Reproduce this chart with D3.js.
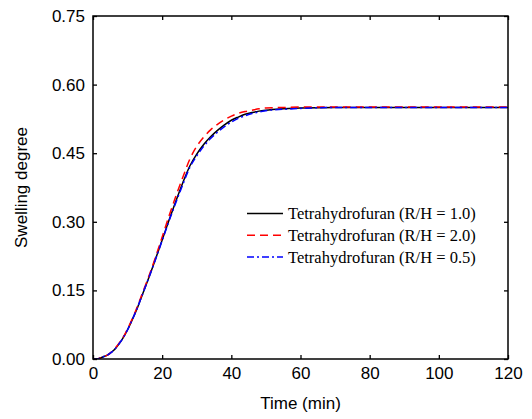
<!DOCTYPE html>
<html><head><meta charset="utf-8">
<script src="https://cdn.jsdelivr.net/npm/d3@7"></script>
<style>body{margin:0;background:#fff}svg{display:block}</style>
</head><body>
<svg id="c" width="532" height="419"></svg>
<script>
const times = [0,1,2,3,4,5,6,7,8,9,10,11,12,13,14,15,16,18,20,22,24,26,28,30,32,34,36,38,40,42,44,46,48,50,55,60,70,80,90,100,110,120];
const rh10 = [0,0.000,0.002,0.005,0.008,0.013,0.019,0.028,0.038,0.050,0.064,0.080,0.097,0.115,0.135,0.155,0.175,0.217,0.260,0.304,0.346,0.386,0.422,0.448,0.469,0.486,0.500,0.512,0.522,0.529,0.535,0.539,0.542,0.544,0.547,0.549,0.550,0.550,0.550,0.550,0.550,0.550];
const rh20 = [0,0.000,0.002,0.005,0.008,0.013,0.020,0.029,0.039,0.051,0.066,0.082,0.099,0.118,0.138,0.158,0.178,0.221,0.267,0.313,0.357,0.398,0.437,0.465,0.485,0.501,0.513,0.523,0.531,0.537,0.541,0.544,0.547,0.549,0.550,0.551,0.551,0.551,0.551,0.551,0.551,0.551];
const rh05 = [0,0.000,0.002,0.005,0.008,0.013,0.019,0.028,0.038,0.050,0.064,0.080,0.097,0.115,0.135,0.155,0.175,0.216,0.259,0.302,0.343,0.382,0.419,0.444,0.465,0.482,0.496,0.508,0.518,0.526,0.532,0.537,0.540,0.543,0.546,0.548,0.550,0.550,0.550,0.550,0.550,0.550];
const seriesNames = ["Tetrahydrofuran (R/H = 1.0)","Tetrahydrofuran (R/H = 2.0)","Tetrahydrofuran (R/H = 0.5)"];
const xTicks = [0,20,40,60,80,100,120];
const yTicks = [0,0.15,0.30,0.45,0.60,0.75];

const svg = d3.select("#c");
const L=93, R=508, T=16, B=359;
const x = d3.scaleLinear().domain([0,120]).range([L,R]);
const y = d3.scaleLinear().domain([0,0.75]).range([B,T]);

const series = [
  {name:seriesNames[0], vals:rh10, color:"#000", dash:null},
  {name:seriesNames[1], vals:rh20, color:"#ff0000", dash:"8,5"},
  {name:seriesNames[2], vals:rh05, color:"#0000ff", dash:"7,3,2,3"}
];

const clip = svg.append("clipPath").attr("id","cp").append("rect")
  .attr("x",L).attr("y",T).attr("width",R-L).attr("height",B-T);

const line = d3.line().x(d=>x(d[0])).y(d=>y(d[1])).curve(d3.curveMonotoneX);
const g = svg.append("g").attr("clip-path","url(#cp)");
series.forEach(s=>{
  g.append("path").datum(times.map((t,i)=>[t,s.vals[i]]))
    .attr("d",line).attr("fill","none").attr("stroke",s.color)
    .attr("stroke-width",1.5).attr("stroke-dasharray",s.dash);
});

const font = "'Liberation Sans', Arial, sans-serif";
const tl = 4;
// axes
const ax = svg.append("g").attr("transform",`translate(0,${B})`)
  .call(d3.axisBottom(x).tickValues(xTicks).tickSize(-tl).tickPadding(8).tickFormat(d3.format("d")));
const axT = svg.append("g").attr("transform",`translate(0,${T})`)
  .call(d3.axisTop(x).tickValues(xTicks).tickSize(-tl).tickFormat(""));
const ay = svg.append("g").attr("transform",`translate(${L},0)`)
  .call(d3.axisLeft(y).tickValues(yTicks).tickSize(-tl).tickPadding(8).tickFormat(d3.format(".2f")));
const ayR = svg.append("g").attr("transform",`translate(${R},0)`)
  .call(d3.axisRight(y).tickValues(yTicks).tickSize(-tl).tickFormat(""));
[ax,axT,ay,ayR].forEach(a=>{
  a.select(".domain").remove();
  a.selectAll(".tick line").attr("stroke","#000").attr("stroke-width",1.3);
  a.selectAll("text").attr("font-family",font).attr("font-size",17).attr("fill","#000");
});
ax.selectAll("text").attr("dy","0.71em");
svg.append("rect").attr("x",L).attr("y",T).attr("width",R-L).attr("height",B-T)
  .attr("fill","none").attr("stroke","#000").attr("stroke-width",1.5);

svg.append("text").attr("x",(L+R)/2).attr("y",409).attr("text-anchor","middle")
  .attr("font-family",font).attr("font-size",17).text("Time (min)");
svg.append("text").attr("transform",`translate(27,${(T+B)/2}) rotate(-90)`).attr("text-anchor","middle")
  .attr("font-family",font).attr("font-size",17).text("Swelling degree");

// legend
const lg = svg.append("g");
series.forEach((s,i)=>{
  const yy = 213.5 + i*21.7;
  lg.append("line").attr("x1",247).attr("x2",283).attr("y1",yy).attr("y2",yy)
    .attr("stroke",s.color).attr("stroke-width",1.5).attr("stroke-dasharray",s.dash);
  lg.append("text").attr("x",288).attr("y",yy).attr("dy","0.35em")
    .attr("font-family","'Liberation Serif','Times New Roman',serif").attr("font-size",16.5)
    .text(s.name);
});
</script>
</body></html>
